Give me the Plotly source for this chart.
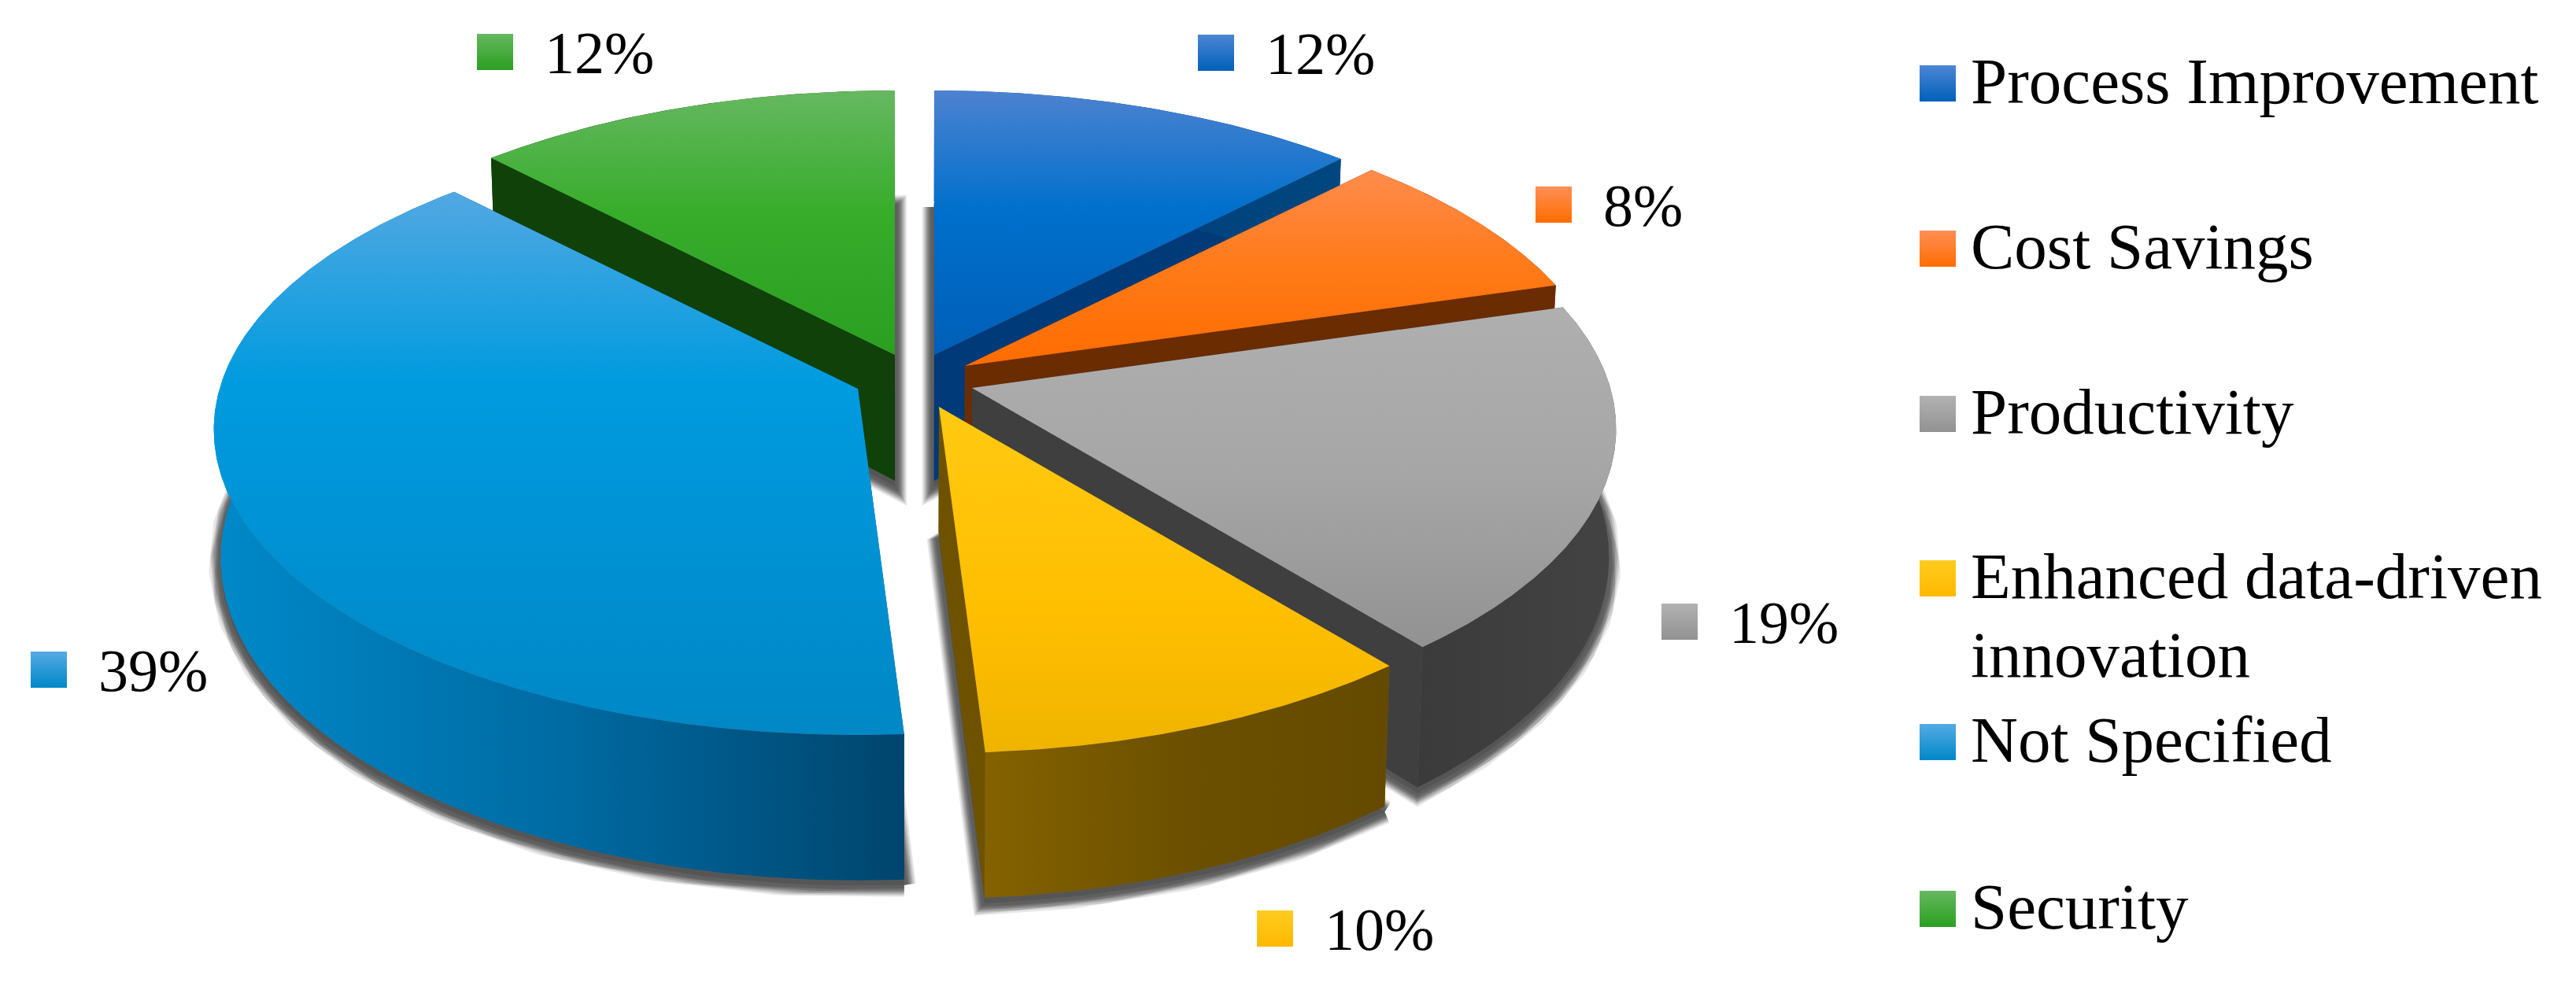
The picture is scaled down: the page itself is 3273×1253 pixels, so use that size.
import math
import plotly.graph_objects as go

# ---- data -----------------------------------------------------------------
categories = ["Process Improvement", "Cost Savings", "Productivity",
              "Enhanced data-driven<br>innovation", "Not Specified", "Security"]
values = [12.3, 8.2, 18.6, 9.9, 38.8, 12.2]

# ---- styles ---------------------------------------------------------------
# stop 1 = top of the slice on screen, stop 0 = bottom of the slice
top_scales = [
    [[0, "#005fb8"], [0.55, "#0070cc"], [1, "#4d82d0"]],
    [[0, "#ff6c00"], [0.5, "#ff7a18"], [1, "#ff8b4d"]],
    [[0, "#929292"], [0.5, "#a6a6a6"], [1, "#afafaf"]],
    [[0, "#f0b400"], [0.4, "#ffbe00"], [1, "#ffca12"]],
    [[0, "#0087c6"], [0.65, "#009bdf"], [1, "#52a8e2"]],
    [[0, "#2a9f20"], [0.55, "#38ad2c"], [1, "#66b860"]],
]
rim_scales = [
    [[0, "#003a78"], [1, "#00477f"]],
    [[0, "#6a2c00"], [1, "#6a2c00"]],
    [[0, "#3b3b3b"], [1, "#434343"]],
    [[0, "#846200"], [0.5, "#6c5000"], [1, "#644a00"]],
    [[0, "#0089c9"], [0.5, "#006ba3"], [1, "#00456d"]],
    [[0, "#0f4108"], [1, "#0f4108"]],
]
side_colors = ["#003a78", "#6a2c00", "#3f3f3f", "#6e5200", "#00456d", "#0f4108"]
marker_top = ["#4d86d4", "#ff8f55", "#b2b2b2", "#ffcc20", "#55aae4", "#66b860"]
marker_bot = ["#0060ba", "#ff6c00", "#929292", "#ffb800", "#0088c8", "#2a9f20"]

# ---- geometry of the projected pie (page pixels) ---------------------------
W, H = 3273, 1253
PAGE_MARGIN = 8
apex_x = [1187, 1226, 1235, 1193, 1090, 1137]
apex_y = [451, 465, 493, 517, 494, 451]
RX, RY, PERSP = 811, 381, 0.134
DEPTH, SHRINK, VANISH_X = 160, 0.99, 1150

pct_marker_x = [1545, 1974, 2134, 1620, 62, 629]
pct_marker_y = [67, 260, 790, 1180, 851, 66]
pct_text_dx = 63
pct_text_dy = 8
legend_marker_y = [106, 316, 526, 735, 943, 1155]
legend_marker_x, legend_text_x = 2462, 2504
legend_text_dy = 4
legend_line_gap = 100


def top_pt(i, deg, r=1.0):
    t = math.radians(deg)
    p = 1 / (1 + PERSP * r * math.cos(t))
    return (apex_x[i] + RX * r * math.sin(t) * p,
            apex_y[i] - RY * r * math.cos(t) * p, p)


def bottom_pt(i, deg, r=1.0):
    x, y, p = top_pt(i, deg, r)
    return (VANISH_X + (x - VANISH_X) * SHRINK, y + DEPTH * p)


def arc_degrees(a, b):
    n = max(2, int(abs(b - a) * 2))
    return [a + (b - a) * k / n for k in range(n + 1)]


total = sum(values)
edges = [0]
for v in values:
    edges.append(edges[-1] + v / total * 360)

fig = go.Figure()


def poly(xs, ys, **kw):
    fig.add_trace(go.Scatter(x=xs, y=ys, mode="lines", hoverinfo="skip",
                             showlegend=False, **kw))


# soft shadow under the footprint of every slice
for width, alpha in [(30, 0.14), (26, 0.20), (22, 0.28), (18, 0.36), (14, 0.45), (9, 0.6)]:
    for i in range(len(values)):
        degs = arc_degrees(edges[i], edges[i + 1])
        pts = [bottom_pt(i, d) for d in degs] + [bottom_pt(i, 0, 0)]
        xs = [p[0] for p in pts] + [pts[0][0]]
        ys = [p[1] + 7 for p in pts] + [pts[0][1] + 7]
        poly(xs, ys, line=dict(color=f"rgba(85,85,85,{alpha})", width=width),
             fill="toself", fillcolor=f"rgba(85,85,85,{alpha})")

# slices, back to front
order = [5, 0, 1, 2, 4, 3]
for i in order:
    a, b = edges[i], edges[i + 1]
    degs = arc_degrees(a, b)
    # radial walls
    for d in (a, b):
        t0, t1 = top_pt(i, d), top_pt(i, d, 0)
        b0, b1 = bottom_pt(i, d), bottom_pt(i, d, 0)
        poly([t0[0], t1[0], b1[0], b0[0], t0[0]], [t0[1], t1[1], b1[1], b0[1], t0[1]],
             fill="toself", fillcolor=side_colors[i], line=dict(width=0))
    # outer wall
    tops = [top_pt(i, d) for d in degs]
    bots = [bottom_pt(i, d) for d in degs][::-1]
    poly([p[0] for p in tops] + [p[0] for p in bots],
         [p[1] for p in tops] + [p[1] for p in bots],
         fill="toself", line=dict(width=0),
         fillgradient=dict(type="horizontal", colorscale=rim_scales[i]))
    # top face
    ap = top_pt(i, 0, 0)
    poly([ap[0]] + [p[0] for p in tops] + [ap[0]],
         [ap[1]] + [p[1] for p in tops] + [ap[1]],
         fill="toself", line=dict(width=0),
         fillgradient=dict(type="vertical", colorscale=top_scales[i]))

FONT = "Liberation Serif"

# percent labels
for i, v in enumerate(values):
    fig.add_trace(go.Scatter(
        x=[pct_marker_x[i]], y=[pct_marker_y[i]], mode="markers", hoverinfo="skip",
        showlegend=False,
        marker=dict(symbol="square", size=46, color=marker_top[i], line=dict(width=0),
                    gradient=dict(type="vertical", color=marker_bot[i]))))
    fig.add_trace(go.Scatter(
        x=[pct_marker_x[i] + pct_text_dx], y=[pct_marker_y[i] + pct_text_dy], mode="text",
        text=[f"{round(v)}%"], textposition="middle right", hoverinfo="skip", showlegend=False,
        textfont=dict(family=FONT, size=76, color="#000000")))

# legend
for i, name in enumerate(categories):
    fig.add_trace(go.Scatter(
        x=[legend_marker_x], y=[legend_marker_y[i]], mode="markers", hoverinfo="skip",
        showlegend=False,
        marker=dict(symbol="square", size=46, color=marker_top[i], line=dict(width=0),
                    gradient=dict(type="vertical", color=marker_bot[i]))))
    for k, part in enumerate(name.split("<br>")):
        fig.add_trace(go.Scatter(
            x=[legend_text_x], y=[legend_marker_y[i] + legend_text_dy + k * legend_line_gap],
            mode="text", text=[part], textposition="middle right", hoverinfo="skip",
            showlegend=False, textfont=dict(family=FONT, size=83, color="#000000")))

fig.update_layout(
    width=W - 2 * PAGE_MARGIN, height=H - 2 * PAGE_MARGIN,
    margin=dict(l=0, r=0, t=0, b=0),
    paper_bgcolor="white", plot_bgcolor="white", showlegend=False,
    xaxis=dict(range=[PAGE_MARGIN, W - PAGE_MARGIN], visible=False, fixedrange=True),
    yaxis=dict(range=[H - PAGE_MARGIN, PAGE_MARGIN], visible=False, fixedrange=True),
)
fig.write_html("out.html", config={"displayModeBar": False})
